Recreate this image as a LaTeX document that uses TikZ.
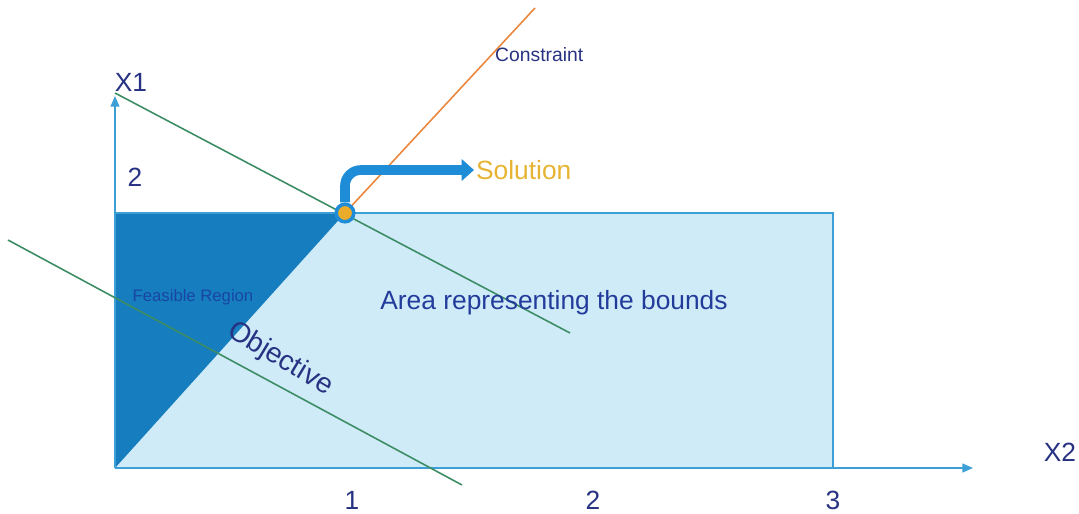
\documentclass[tikz,border=0pt]{standalone}
\usepackage{fontspec}
\setmainfont{Liberation Sans}
\usetikzlibrary{calc,arrows.meta}

\definecolor{navy}{RGB}{40,50,130}
\definecolor{areablue}{RGB}{35,60,155}
\definecolor{feasblue}{RGB}{25,70,165}
\definecolor{axisblue}{RGB}{60,160,215}
\definecolor{lightfill}{RGB}{207,235,248}
\definecolor{darkfill}{RGB}{22,125,190}
\definecolor{objgreen}{RGB}{60,140,100}
\definecolor{conorange}{RGB}{235,135,60}
\definecolor{solgold}{RGB}{230,180,50}
\definecolor{solblue}{RGB}{30,140,215}

\tikzset{
  axis/.style={axisblue, line width=0.9pt, -{Triangle[length=6pt,width=5pt]}},
  objline/.style={objgreen, line width=0.9pt},
  conline/.style={conorange, line width=0.9pt},
  ticklabel/.style={navy, font=\fontsize{15}{17}\selectfont},
  solarrow/.style={solblue, line width=5.5pt, rounded corners=9pt, -{Triangle[length=7pt,width=12pt]}}
}

\begin{document}
\begin{tikzpicture}[x=0.02cm, y=-0.02cm]
			\useasboundingbox (0,0) rectangle (1079,514);
			\coordinate (O) at (115,468);
			\coordinate (Xtip) at (973,468);
			\coordinate (Ytip) at (115,96);
			\coordinate (TL) at (115,213);
			\coordinate (TR) at (833,213);
			\coordinate (BR) at (833,468);
			\coordinate (S) at (345,213);
			\coordinate (Ctop) at (535,8);
			\coordinate (A1) at (115,93);
			\coordinate (A2) at (570,333);
			\coordinate (B1) at (8,240);
			\coordinate (B2) at (462,485);
			
			% bounds and feasible region
			\fill[lightfill] (O) rectangle (TR);
			\fill[darkfill] (O) -- (TL) -- (S) -- cycle;
			\draw[axisblue, line width=1.1pt] (TL) -- (TR) -- (BR);
			
			\draw[axis] (O) -- (Xtip);
			\draw[axis] (O) -- (Ytip);
			
			\draw[objline] (A1) -- (A2);
			\draw[objline] (B1) -- (B2);
			\draw[conline] (S) -- (Ctop);
			
			\node[navy, font=\fontsize{11}{13}\selectfont, anchor=west] (con) at (489,55) {Constraint};
			\node[feasblue, font=\fontsize{9.5}{11}\selectfont] (feas) at (193,297) {Feasible Region};
			\node[navy, font=\fontsize{16}{18}\selectfont, rotate=-31] (obj) at (280,359) {Objective};
			\node[areablue, font=\fontsize{15}{17}\selectfont] (area) at (554,303) {Area representing the bounds};
			
			\node[circle, fill=solgold!85!orange, draw=solblue, line width=2pt, minimum size=10pt, inner sep=0pt] (P) at (S) {};
			\node[solgold, font=\fontsize{15}{17}\selectfont, anchor=west, inner sep=1pt] (sol) at (474,170) {Solution};
			\draw[solarrow] (P.north) |- (sol.west);
			
			\foreach \p/\l in {{352,500}/1, {593,500}/2, {833,500}/3, {135,177}/2, {131,82}/X1, {1060,452}/X2} {
				\node[ticklabel] at (\p) {\l};
			}
		\end{tikzpicture}
\end{document}
